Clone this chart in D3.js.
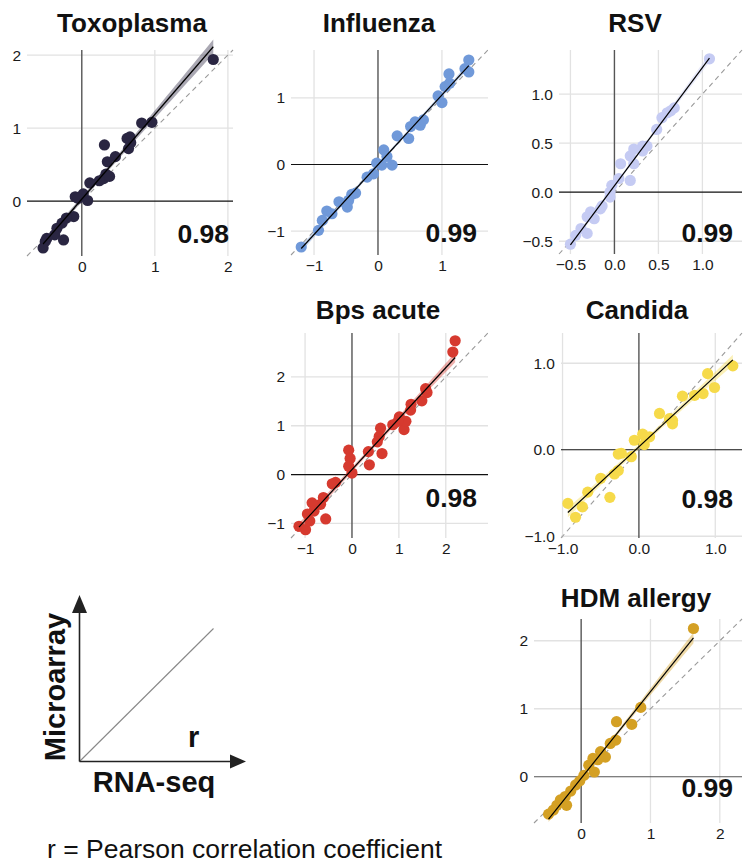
<!DOCTYPE html>
<html><head><meta charset="utf-8">
<script src="https://cdn.jsdelivr.net/npm/d3@7"></script>
<style>
html,body{margin:0;padding:0;background:#fff;}
svg{display:block;font-family:"Liberation Sans",Arial,sans-serif;}
</style></head>
<body>
<svg id="chart" width="744" height="864"></svg>
<script>
// ---------------- DATA ----------------
const titles = ["Toxoplasma", "Influenza", "RSV", "Bps acute", "Candida", "HDM allergy"];
const rValues = ["0.98", "0.99", "0.99", "0.98", "0.98", "0.99"];

// RNA-seq (x) and Microarray (y) values per dataset
const toxoplasmaRNA   = [1.80,0.96,0.82,0.66,0.62,0.67,0.64,0.31,0.46,0.35,0.33,0.30,0.24,0.11,0.38,0.02,0.08,-0.09,-0.05,-0.11,-0.21,-0.27,-0.34,-0.37,-0.25,-0.48,-0.50,-0.53];
const toxoplasmaArray = [1.94,1.08,1.07,0.88,0.86,0.80,0.72,0.77,0.61,0.54,0.37,0.31,0.28,0.25,0.34,0.10,0.01,0.06,0.04,-0.21,-0.23,-0.30,-0.37,-0.46,-0.53,-0.51,-0.55,-0.64];

const influenzaRNA   = [-1.20,-0.93,-0.87,-0.80,-0.72,-0.61,-0.48,-0.46,-0.41,-0.35,-0.17,-0.07,-0.02,0.06,0.09,0.14,0.22,0.30,0.48,0.51,0.58,0.66,0.71,0.94,1.00,1.05,1.12,1.11,1.36,1.42,1.42];
const influenzaArray = [-1.24,-0.99,-0.84,-0.70,-0.74,-0.56,-0.64,-0.54,-0.45,-0.43,-0.19,-0.14,0.02,-0.01,0.22,0.12,-0.01,0.43,0.39,0.57,0.64,0.59,0.67,1.03,0.93,1.17,1.22,1.36,1.44,1.39,1.57];

const rsvRNA   = [1.08,0.68,0.64,0.60,0.54,0.48,0.37,0.32,0.22,0.18,0.22,0.07,0.18,0.05,-0.03,-0.05,-0.05,-0.14,-0.16,-0.23,-0.27,-0.31,-0.31,-0.38,-0.44,-0.50,0.32];
const rsvArray = [1.36,0.86,0.83,0.81,0.76,0.64,0.47,0.47,0.44,0.37,0.29,0.29,0.12,0.14,0.07,0.00,-0.05,-0.14,-0.17,-0.27,-0.20,-0.25,-0.42,-0.37,-0.44,-0.53,0.42];

const bpsRNA   = [2.20,2.15,1.60,1.57,1.49,1.26,1.25,1.11,1.15,1.01,0.98,0.87,0.61,0.58,0.54,0.64,0.35,0.37,-0.07,-0.04,-0.07,0.00,-0.35,-0.42,-0.61,-0.67,-0.85,-0.81,-0.95,-0.56,-1.13,-0.99,-0.90];
const bpsArray = [2.74,2.51,1.68,1.76,1.51,1.44,1.32,0.92,1.09,1.18,1.09,1.02,0.95,0.78,0.67,0.43,0.47,0.20,0.50,0.33,0.17,0.03,-0.16,-0.19,-0.47,-0.61,-0.58,-0.75,-0.81,-0.91,-1.06,-1.13,-0.95];

const candidaRNA   = [1.23,0.99,0.90,0.84,0.73,0.57,0.44,0.40,0.44,0.27,0.14,0.05,0.07,-0.06,-0.10,-0.23,-0.27,-0.27,-0.32,-0.38,-0.50,-0.67,-0.74,-0.93,-0.83,0.09];
const candidaArray = [0.97,0.72,0.88,0.65,0.63,0.62,0.34,0.36,0.30,0.42,0.15,0.18,0.06,0.11,-0.08,-0.04,-0.05,-0.24,-0.28,-0.55,-0.33,-0.49,-0.66,-0.62,-0.78,0.14];

const hdmRNA   = [1.62,0.86,0.73,0.51,0.50,0.42,0.35,0.28,0.24,0.17,0.11,0.19,0.04,-0.02,-0.08,-0.15,-0.23,-0.21,-0.30,-0.35,-0.40,-0.47];
const hdmArray = [2.18,1.02,0.77,0.81,0.54,0.49,0.29,0.37,0.25,0.27,0.17,0.07,0.02,-0.06,-0.12,-0.21,-0.29,-0.42,-0.34,-0.42,-0.49,-0.55];

const xValues = [toxoplasmaRNA, influenzaRNA, rsvRNA, bpsRNA, candidaRNA, hdmRNA];
const yValues = [toxoplasmaArray, influenzaArray, rsvArray, bpsArray, candidaArray, hdmArray];

// axis domains and tick labels
const domains = [[-0.75,2.07],[-1.36,1.72],[-0.63,1.45],[-1.3,2.9],[-1.02,1.35],[-0.68,2.32]];
const tickValues = [[0,1,2],[-1,0,1],[-0.5,0,0.5,1.0],[-1,0,1,2],[-1.0,0.0,1.0],[0,1,2]];
const tickFormats = ["d","d",".1f","d",".1f","d"];

// ---------------- STYLE / LAYOUT ----------------
const colors = ["#2a2642","#7099d9","#c5cbf3","#d63a2f","#f6da4a","#d4a024"];
const rects = [ // left, top, right, bottom of plot area
  [27,50,233,256],[291,50,488,255],[559,50,742,254],
  [291,333,488,538],[561,333,742,538],[534,619,742,823]];
const titlePos = [[132,31.5],[379,31.5],[635,31.5],[378,319],[637,319],[636,606.5]];
const rPos = [[229,242.5],[477,241.5],[733,241.5],[477,507],[733,508],[733,796.5]];
const hZeroColors = ["#111","#111","#111","#111","#111","#555"];

const svg = d3.select("#chart");

function fitLine(xs, ys){
  const n = xs.length, mx = d3.mean(xs), my = d3.mean(ys);
  let sxx=0, sxy=0;
  for(let i=0;i<n;i++){ sxx += (xs[i]-mx)**2; sxy += (xs[i]-mx)*(ys[i]-my); }
  const b = sxy/sxx, a = my - b*mx;
  let sse=0; for(let i=0;i<n;i++){ sse += (ys[i]-a-b*xs[i])**2; }
  const s = Math.sqrt(sse/(n-2));
  return {a,b,s,n,mx,sxx};
}

titles.forEach((title, i) => {
  const [l,t,r,btm] = rects[i];
  const x = d3.scaleLinear().domain(domains[i]).range([l,r]);
  const y = d3.scaleLinear().domain(domains[i]).range([btm,t]);
  const g = svg.append("g");
  const ticks = tickValues[i];

  // grid
  g.selectAll(".vg").data(ticks.filter(v=>v!==0)).join("line")
    .attr("x1",d=>x(d)).attr("x2",d=>x(d)).attr("y1",t).attr("y2",btm)
    .attr("stroke","#e2e2e2").attr("stroke-width",1.3);
  g.selectAll(".hg").data(ticks.filter(v=>v!==0)).join("line")
    .attr("y1",d=>y(d)).attr("y2",d=>y(d)).attr("x1",l).attr("x2",r)
    .attr("stroke","#e2e2e2").attr("stroke-width",1.3);

  // zero lines
  g.append("line").attr("x1",x(0)).attr("x2",x(0)).attr("y1",t).attr("y2",btm)
    .attr("stroke","#555").attr("stroke-width",1.4);
  g.append("line").attr("x1",l).attr("x2",r).attr("y1",y(0)).attr("y2",y(0))
    .attr("stroke",hZeroColors[i]).attr("stroke-width",1.2);

  // identity line
  g.append("line").attr("x1",x(domains[i][0])).attr("y1",y(domains[i][0]))
    .attr("x2",x(domains[i][1])).attr("y2",y(domains[i][1]))
    .attr("stroke","#9a9a9a").attr("stroke-width",1.1).attr("stroke-dasharray","5,4");

  // regression + CI
  const xs = xValues[i], ys = yValues[i];
  const f = fitLine(xs, ys);
  const [x0, x1] = d3.extent(xs);
  const grid = d3.range(0, 41).map(k => x0 + (x1-x0)*k/40);
  const tcrit = 1.3;
  const band = grid.map(v => {
    const se = f.s*Math.sqrt(1/f.n + (v-f.mx)**2/f.sxx);
    const m = f.a + f.b*v;
    return {v, lo: m - tcrit*se, hi: m + tcrit*se};
  });

  // points
  g.selectAll("circle").data(xs.map((v,k)=>[v, ys[k]])).join("circle")
    .attr("cx",d=>x(d[0])).attr("cy",d=>y(d[1])).attr("r",5.6)
    .attr("fill",colors[i]);

  g.append("path").datum(band)
    .attr("d", d3.area().x(d=>x(d.v)).y0(d=>y(d.lo)).y1(d=>y(d.hi)))
    .attr("fill",colors[i]).attr("fill-opacity",0.4);
  g.append("line").attr("x1",x(x0)).attr("y1",y(f.a+f.b*x0))
    .attr("x2",x(x1)).attr("y2",y(f.a+f.b*x1))
    .attr("stroke","#000").attr("stroke-width",1.2);

  // axes (labels only)
  const fmt = d3.format(tickFormats[i]);
  const ax = g.append("g").attr("transform",`translate(0,${btm})`)
    .call(d3.axisBottom(x).tickValues(ticks).tickFormat(fmt).tickSize(0).tickPadding(5));
  const ay = g.append("g").attr("transform",`translate(${l},0)`)
    .call(d3.axisLeft(y).tickValues(ticks).tickFormat(fmt).tickSize(0).tickPadding(6));
  [ax, ay].forEach(a => {
    a.select(".domain").remove();
    a.attr("font-family","Liberation Sans, Arial, sans-serif").attr("font-size",15.5).attr("color","#1a1a1a");
  });

  // title
  svg.append("text").attr("x",titlePos[i][0]).attr("y",titlePos[i][1])
    .attr("text-anchor","middle").attr("font-weight","bold").attr("font-size",26)
    .attr("fill","#111").text(title);
  // r value
  svg.append("text").attr("x",rPos[i][0]).attr("y",rPos[i][1])
    .attr("text-anchor","end").attr("font-weight","bold").attr("font-size",26.5)
    .attr("fill","#111").text(rValues[i]);
});

// ---------------- schematic legend ----------------
const leg = svg.append("g");
const ox = 79.5, oy = 761.5;
leg.append("line").attr("x1",ox).attr("y1",oy).attr("x2",213.5).attr("y2",628.5)
  .attr("stroke","#888").attr("stroke-width",1.1);
leg.append("line").attr("x1",ox).attr("y1",oy).attr("x2",ox).attr("y2",610)
  .attr("stroke","#222").attr("stroke-width",1.6);
leg.append("line").attr("x1",ox).attr("y1",oy).attr("x2",232).attr("y2",oy)
  .attr("stroke","#222").attr("stroke-width",1.6);
leg.append("path").attr("d",`M${ox-7.5},613L${ox},595L${ox+7.5},613Z`).attr("fill","#222");
leg.append("path").attr("d",`M230,${oy-7}L246,${oy}L230,${oy+7}Z`).attr("fill","#222");
leg.append("text").attr("transform","translate(65,687) rotate(-90)")
  .attr("text-anchor","middle").attr("font-weight","bold").attr("font-size",29)
  .attr("fill","#111").text("Microarray");
leg.append("text").attr("x",154).attr("y",791.5)
  .attr("text-anchor","middle").attr("font-weight","bold").attr("font-size",29)
  .attr("fill","#111").text("RNA-seq");
leg.append("text").attr("x",188).attr("y",746.5)
  .attr("font-weight","bold").attr("font-size",29).attr("fill","#111").text("r");
svg.append("text").attr("x",47).attr("y",858)
  .attr("font-size",26.5).attr("fill","#111").text("r = Pearson correlation coefficient");
</script>
</body></html>
